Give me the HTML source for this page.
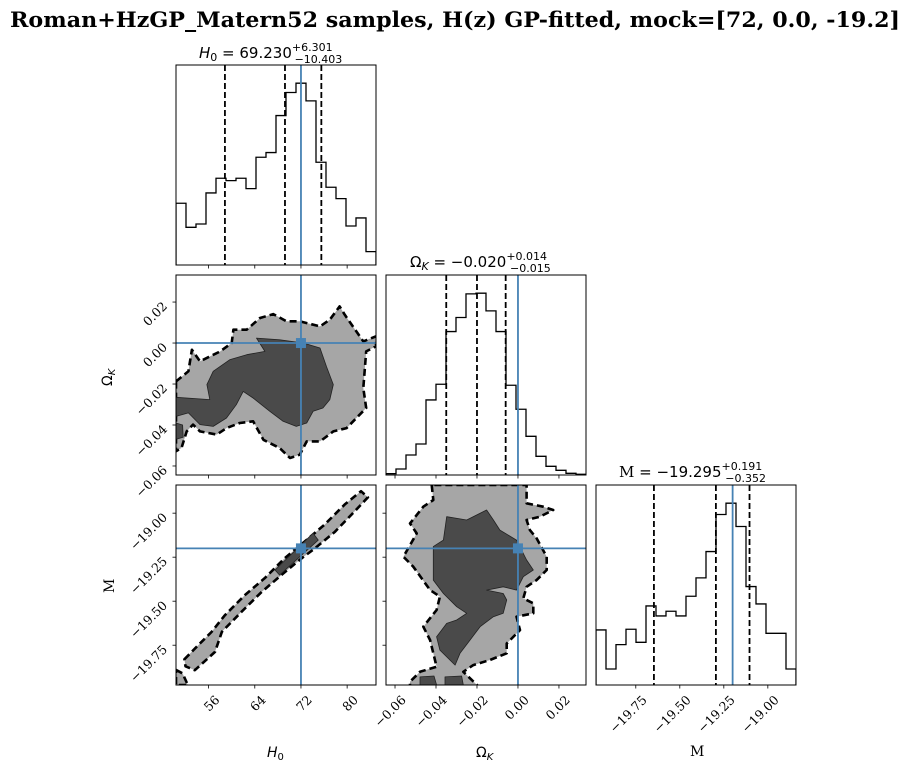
<!DOCTYPE html>
<html><head><meta charset="utf-8"><style>
html,body{margin:0;padding:0;background:#fff;}
svg{display:block;}
.tk{font-family:"DejaVu Serif","Liberation Serif",serif;font-size:12.5px;fill:#000;}
.ttl{font-family:"DejaVu Sans","Liberation Sans",sans-serif;font-size:15px;fill:#000;}
</style></head><body>
<svg id="fig" width="912" height="771" viewBox="0 0 912 771" xmlns="http://www.w3.org/2000/svg">
<text x="10" y="27" textLength="890" lengthAdjust="spacingAndGlyphs" style="font-family:'DejaVu Serif','Liberation Serif',serif;font-weight:bold;font-size:21px">Roman+HzGP_Matern52 samples, H(z) GP-fitted, mock=[72, 0.0, -19.2]</text>
</svg>
<script>
const truths=[72,0.0,-19.2];
const ranges=[[50.35,85.0],[-0.0644,0.0332],[-19.976,-18.84]];
const h0Hist=[185,113,123,216,260,253,260,229,323,337,448,517,545,492,308,233,199,117,141,40];
const okHist=[4,18,60,93,225,272,430,472,543,545,492,430,269,197,116,56,26,14,5,2];
const mHist=[165,48,121,167,128,237,207,221,207,266,321,400,511,545,475,295,243,155,155,48];
const h0Quant=[58.827,69.230,75.531];
const okQuant=[-0.035,-0.020,-0.006];
const mQuant=[-19.647,-19.295,-19.104];
const h0Ticks=[56,64,72,80];
const okTicks=[-0.06,-0.04,-0.02,0.00,0.02];
const okTickLabels=["\u22120.06","\u22120.04","\u22120.02","0.00","0.02"];
const mTicks=[-19.75,-19.5,-19.25,-19.0];
const mTickLabels=["\u221219.75","\u221219.50","\u221219.25","\u221219.00"];
// contours (data coords)
const h0okOuter=[[50.35,-0.0187],[52.5,-0.0138],[53.1,-0.0033],[54.5,-0.0089],[58.0,-0.0041],[60.0,0],[60.3,0.0065],[62.6,0.0065],[64.9,0.0122],[67.2,0.0141],[69.5,0.0106],[71.8,0.0106],[75.3,0.0081],[77.0,0.0114],[78.7,0.0179],[79.6,0.0138],[82.8,0.0008],[85.0,0.0033],[85.0,-0.0016],[83.3,-0.0041],[82.8,-0.022],[83.3,-0.0317],[81.6,-0.0366],[79.9,-0.0415],[77.6,-0.0431],[75.3,-0.048],[73.0,-0.048],[71.8,-0.0545],[70.1,-0.0561],[68.3,-0.0512],[65.5,-0.0472],[63.7,-0.0382],[61.4,-0.039],[59.1,-0.0415],[57.4,-0.0447],[54.5,-0.0431],[53.3,-0.0398],[52.2,-0.0431],[51.3,-0.0512],[50.35,-0.0528]];
const h0okInner=[[50.35,-0.0265],[56.2,-0.0276],[55.7,-0.0203],[56.8,-0.0138],[59.7,-0.0081],[62.6,-0.0057],[65.75,-0.0041],[64.3,0.0024],[68.3,0.0016],[72.4,0],[75.3,-0.0024],[76.4,-0.0114],[77.6,-0.0203],[77.0,-0.0276],[75.8,-0.0317],[74.1,-0.0333],[73.0,-0.039],[71.2,-0.0407],[68.9,-0.0382],[66.6,-0.0333],[63.7,-0.0268],[62.0,-0.0236],[60.8,-0.0301],[59.1,-0.0366],[56.8,-0.0407],[54.5,-0.0398],[52.5,-0.0341],[50.35,-0.0358]];
const h0okBlob=[[50.35,-0.039],[51.5,-0.040],[51.6,-0.046],[50.35,-0.047]];
const h0mOuter=[[51.8,-19.83],[54.2,-19.75],[56.5,-19.675],[58.8,-19.58],[62.3,-19.465],[65.7,-19.37],[69.2,-19.255],[72.7,-19.16],[76.1,-19.065],[79.6,-18.95],[82.4,-18.875],[83.6,-18.91],[81.3,-18.99],[77.9,-19.105],[74.4,-19.2],[72.1,-19.257],[68.6,-19.352],[65.2,-19.447],[61.7,-19.56],[58.3,-19.674],[57.1,-19.788],[53.6,-19.892],[52.0,-19.87]];
const h0mCorner=[[50.35,-19.89],[51.5,-19.91],[52.4,-19.976],[50.35,-19.976]];
const h0mInner=[[67.5,-19.323],[74.1,-19.114],[75.0,-19.153],[68.3,-19.352]];
const okmOuter=[[-0.0421,-18.840],[-0.0413,-18.925],[-0.0462,-18.963],[-0.0527,-19.058],[-0.0494,-19.115],[-0.0559,-19.247],[-0.0511,-19.304],[-0.0429,-19.437],[-0.0381,-19.474],[-0.0397,-19.550],[-0.0462,-19.645],[-0.0429,-19.721],[-0.0397,-19.872],[-0.0478,-19.901],[-0.0527,-19.957],[-0.0527,-19.982],[-0.0194,-19.982],[-0.0267,-19.901],[-0.0218,-19.863],[-0.0137,-19.834],[-0.0055,-19.796],[-0.0055,-19.740],[0.0010,-19.664],[-0.0007,-19.588],[0.0075,-19.569],[0.0075,-19.512],[0.0026,-19.484],[0.0042,-19.418],[0.0091,-19.380],[0.0140,-19.323],[0.0140,-19.247],[0.0091,-19.143],[0.0058,-19.096],[0.0042,-19.039],[0.0107,-19.020],[0.0172,-18.982],[0.0123,-18.963],[0.0042,-18.944],[0.0042,-18.840]];
const okmInner=[[-0.0348,-19.020],[-0.0250,-19.039],[-0.0153,-18.982],[-0.0120,-19.039],[-0.0088,-19.096],[-0.0007,-19.153],[0.0042,-19.266],[0.0075,-19.323],[0.0026,-19.361],[-0.0007,-19.437],[-0.0072,-19.418],[-0.0153,-19.437],[-0.0072,-19.456],[-0.0055,-19.493],[-0.0072,-19.569],[-0.0120,-19.588],[-0.0185,-19.645],[-0.0234,-19.721],[-0.0283,-19.796],[-0.0307,-19.863],[-0.0381,-19.778],[-0.0397,-19.702],[-0.0348,-19.626],[-0.0299,-19.607],[-0.0250,-19.569],[-0.0299,-19.531],[-0.0364,-19.456],[-0.0413,-19.380],[-0.0413,-19.190],[-0.0364,-19.153]];
const okmBlob1=[[-0.0478,-19.93],[-0.0410,-19.925],[-0.0397,-19.976],[-0.0478,-19.976]];
const okmBlob2=[[-0.0356,-19.93],[-0.0275,-19.925],[-0.0267,-19.976],[-0.0356,-19.976]];

const NS="http://www.w3.org/2000/svg";
const svg=document.getElementById('fig');
const X0=[176,386,596], Y0=[65,275,485], S=200;
function mk(tag,attrs,parent){const e=document.createElementNS(NS,tag);for(const k in attrs)e.setAttribute(k,attrs[k]);(parent||svg).appendChild(e);return e;}
function sx(i,v){const r=ranges[i];return X0[i]+(v-r[0])/(r[1]-r[0])*S;}
function sy(i,v){const r=ranges[i];return Y0[i]+S-(v-r[0])/(r[1]-r[0])*S;}
function clip(id,x,y){const d=mk('clipPath',{id:id});mk('rect',{x:x,y:y,width:S,height:S},d);}

function hist(i,vals,quants,name){
  const g=mk('g',{'clip-path':'url(#c'+name+')'});
  
  
  clip('c'+name,X0[i],Y0[i]);
  const r=ranges[i],n=vals.length,w=(r[1]-r[0])/n,mx=Math.max(...vals)*1.1;
  const base=Y0[i]+S;
  let d='M'+X0[i]+' '+base;
  vals.forEach((v,k)=>{const y=base-v/mx*S;d+=' L'+sx(i,r[0]+k*w)+' '+y+' L'+sx(i,r[0]+(k+1)*w)+' '+y;});
  d+=' L'+(X0[i]+S)+' '+base;
  const p=mk('path',{d:d,fill:'none',stroke:'#000','stroke-width':1.3},g);
  
  
  quants.forEach((q,k)=>{const l=mk('line',{x1:sx(i,q),x2:sx(i,q),y1:Y0[i],y2:base,stroke:'#000','stroke-width':1.8,'stroke-dasharray':'6,3'},g);
    
    });
  const t=mk('line',{x1:sx(i,truths[i]),x2:sx(i,truths[i]),y1:Y0[i],y2:base,stroke:'#4682b4','stroke-width':1.8},g);
  
  
}
function poly(g,xi,yi,pts,fill,stroke,dash,sw,name){
  const s=pts.map(p=>sx(xi,p[0]).toFixed(1)+','+sy(yi,p[1]).toFixed(1)).join(' ');
  const a={points:s,fill:fill,stroke:stroke,'stroke-width':sw,'stroke-linejoin':'round'};
  if(dash)a['stroke-dasharray']=dash;
  const e=mk('polygon',a,g);
  
  
}
function panel2d(xi,yi,outer,inner,name){
  const id='c'+name;const x=X0[xi],y=Y0[yi];
  clip(id,x,y);
  const g=mk('g',{'clip-path':'url(#'+id+')'});
  
  
  outer.forEach((o,k)=>poly(g,xi,yi,o,'#a6a6a6','#000','7,4',2.6,name+'-outer-contour-'+k));
  inner.forEach((o,k)=>poly(g,xi,yi,o,'#4a4a4a','#222',null,0.8,name+'-inner-contour-'+k));
  const tx=sx(xi,truths[xi]),ty=sy(yi,truths[yi]);
  let l=mk('line',{x1:tx,x2:tx,y1:y,y2:y+S,stroke:'#4682b4','stroke-width':1.8},g);
  
  
  l=mk('line',{x1:x,x2:x+S,y1:ty,y2:ty,stroke:'#4682b4','stroke-width':1.8},g);
  
  
  l=mk('rect',{x:tx-5,y:ty-5,width:10,height:10,fill:'#4682b4'},g);
  
  
}
hist(0,h0Hist,h0Quant,'h0');
hist(1,okHist,okQuant,'omk');
hist(2,mHist,mQuant,'m');
panel2d(0,1,[h0okOuter],[h0okInner,h0okBlob],'h0-omk');
panel2d(0,2,[h0mOuter,h0mCorner],[h0mInner],'h0-m');
panel2d(1,2,[okmOuter],[okmInner,okmBlob1,okmBlob2],'omk-m');

[[0,0],[1,1],[2,2],[0,1],[0,2],[1,2]].forEach(([c,r])=>{
  const f=mk('rect',{x:X0[c],y:Y0[r],width:S,height:S,fill:'none',stroke:'#000','stroke-width':1});
  
  
});
const tickSets=[[h0Ticks,h0Ticks.map(String)],[okTicks,okTickLabels],[mTicks,mTickLabels]];
function xticks(c,r,labels){
  const [tv,tl]=tickSets[c];const b=Y0[r]+S;
  tv.forEach((v,k)=>{const x=sx(c,v);
    const t=mk('line',{x1:x,x2:x,y1:b,y2:b+3.5,stroke:'#000','stroke-width':0.8});
    
    
    if(labels){const px=x+5,py=b+9;const tx=mk('text',{class:'tk',x:px,y:py,'text-anchor':'end',transform:'rotate(-45 '+px+' '+py+')'});
      
      
      tx.setAttribute('dominant-baseline','hanging');tx.textContent=tl[k];}
  });
}
function yticks(c,r,labels){
  const [tv,tl]=tickSets[r];const L=X0[c];
  tv.forEach((v,k)=>{const y=sy(r,v);
    const t=mk('line',{x1:L-3.5,x2:L,y1:y,y2:y,stroke:'#000','stroke-width':0.8});
    
    
    if(labels){const px=L-8,py=y+5;const tx=mk('text',{class:'tk',x:px,y:py,'text-anchor':'end',transform:'rotate(-45 '+px+' '+py+')'});
      
      
      tx.textContent=tl[k];}
  });
}
xticks(0,0,false);xticks(1,1,false);xticks(0,1,false);
xticks(0,2,true);xticks(1,2,true);xticks(2,2,true);
yticks(0,1,true);yticks(0,2,true);yticks(1,2,false);

function addText(html,attrs,name){const t=mk('text',attrs);t.innerHTML=html;
  
  return t;}
addText('<tspan font-style="italic">H</tspan><tspan font-size="11" dy="3">0</tspan><tspan dy="-3"> = 69.230</tspan><tspan font-size="11" dy="-7">+6.301</tspan><tspan font-size="11" dx="-38" dy="12">−10.403</tspan>',{class:'ttl',x:199,y:58},'h0-title');
addText('Ω<tspan font-size="11" font-style="italic" dy="3">K</tspan><tspan dy="-3"> = −0.020</tspan><tspan font-size="11" dy="-7">+0.014</tspan><tspan font-size="11" dx="-37" dy="12">−0.015</tspan>',{class:'ttl',x:410,y:267},'omk-title');
addText('<tspan font-family="DejaVu Serif,serif">M</tspan> = −19.295<tspan font-size="11" dy="-7">+0.191</tspan><tspan font-size="11" dx="-37" dy="12">−0.352</tspan>',{class:'ttl',x:619,y:477},'m-title');
addText('<tspan font-style="italic">H</tspan><tspan font-size="10" dy="3">0</tspan>',{class:'ttl',style:'font-size:14px',x:267,y:757},'x-axis-title-h0');
addText('Ω<tspan font-size="10" font-style="italic" dy="3">K</tspan>',{class:'ttl',style:'font-size:14px',x:476,y:757},'x-axis-title-omk');
addText('M',{class:'tk',style:'font-size:14px',x:690,y:756},'x-axis-title-m');
addText('Ω<tspan font-size="10" font-style="italic" dy="3">K</tspan>',{class:'ttl',style:'font-size:14px',x:112,y:386,transform:'rotate(-90 112 386)'},'y-axis-title-omk');
addText('M',{class:'tk',style:'font-size:14px',x:114,y:593,transform:'rotate(-90 114 593)'},'y-axis-title-m');
</script>
</body></html>
